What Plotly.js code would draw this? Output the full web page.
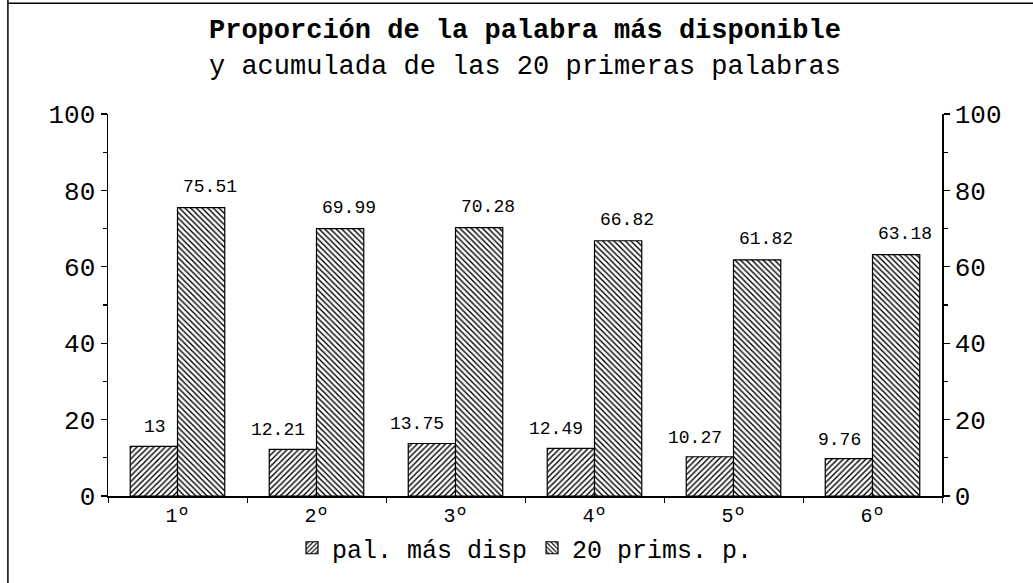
<!DOCTYPE html>
<html><head><meta charset="utf-8">
<script src="https://cdn.plot.ly/plotly-3.0.1.min.js"></script>
<style>body{margin:0;background:#fff}</style>
</head><body>
<div id="chart" style="width:1033px;height:583px"></div>
<script>
const categories = ["1º","2º","3º","4º","5º","6º"];
const palMasDisp = [13, 12.21, 13.75, 12.49, 10.27, 9.76];
const veintePrims = [75.51, 69.99, 70.28, 66.82, 61.82, 63.18];
const labelsA = ["13","12.21","13.75","12.49","10.27","9.76"];
const labelsB = ["75.51","69.99","70.28","66.82","61.82","63.18"];
const seriesNames = ["pal. más disp", "20 prims. p."];

const mono = "Liberation Mono, Courier New, monospace";

const traces = [
  {type:"bar", x:categories, y:palMasDisp, name:seriesNames[0],
   marker:{color:"white", line:{color:"black", width:1.2},
     pattern:{shape:"/", fgcolor:"black", bgcolor:"white", size:4, solidity:0.35, fillmode:"replace"}}},
  {type:"bar", x:categories, y:veintePrims, name:seriesNames[1],
   marker:{color:"white", line:{color:"black", width:1.2},
     pattern:{shape:"\\", fgcolor:"black", bgcolor:"white", size:4, solidity:0.35, fillmode:"replace"}}},
  {type:"scatter", x:categories, y:veintePrims, yaxis:"y2", mode:"none", showlegend:false, hoverinfo:"skip"}
];

const annotations = [];
categories.forEach((c,i)=>{
  annotations.push({x:c, y:palMasDisp[i], text:labelsA[i], showarrow:false, xanchor:"right", yanchor:"bottom",
    xshift:-10, yshift:7, font:{family:mono, size:18, color:"black"}});
  annotations.push({x:c, y:veintePrims[i], text:labelsB[i], showarrow:false, xanchor:"center", yanchor:"bottom",
    xshift:32, yshift:9, font:{family:mono, size:18, color:"black"}});
});
annotations.push({xref:"paper", yref:"paper", x:0.5, y:1, yshift:100, xanchor:"center", yanchor:"top", showarrow:false,
  text:"<b>Proporción de la palabra más disponible</b>", font:{family:mono, size:27, color:"black"}});
annotations.push({xref:"paper", yref:"paper", x:0.5, y:1, yshift:64, xanchor:"center", yanchor:"top", showarrow:false,
  text:"y acumulada de las 20 primeras palabras", font:{family:mono, size:27, color:"black"}});

const yCommon = {range:[0,100], tickvals:[0,20,40,60,80,100], ticks:"outside", ticklen:6, tickwidth:1.2,
  tickcolor:"black", showline:true, linecolor:"black", linewidth:1.5, showgrid:false, zeroline:false,
  tickfont:{family:mono, size:26, color:"black"}, automargin:false,
  minor:{tickvals:[10,30,50,70,90], ticks:"outside", ticklen:4, tickcolor:"black"}};

const layout = {
  width:1033, height:583,
  margin:{l:108, r:91, t:114, b:87},
  paper_bgcolor:"white", plot_bgcolor:"white",
  barmode:"group", bargap:0.32, bargroupgap:0,
  showlegend:true,
  legend:{orientation:"h", x:0.5, xanchor:"center", yref:"container", y:0.06, yanchor:"middle",
    font:{family:mono, size:25, color:"black"}, itemwidth:30, traceorder:"normal"},
  xaxis:{type:"category", range:[-0.5,5.5], tickson:"boundaries", ticks:"outside", ticklen:5, tickcolor:"black",
    showline:true, linecolor:"black", linewidth:1.5, showgrid:false, automargin:false,
    tickfont:{family:mono, size:20, color:"black"}},
  yaxis:Object.assign({}, yCommon),
  yaxis2:Object.assign({}, yCommon, {overlaying:"y", side:"right"}),
  annotations:annotations,
  shapes:[
    {type:"line", xref:"paper", yref:"paper", x0:-0.12, x1:-0.12, y0:1.3, y1:-0.3, line:{color:"black", width:1.5}},
    {type:"line", xref:"paper", yref:"paper", x0:-0.12, x1:1.2, y0:1.29, y1:1.29, line:{color:"black", width:1.5}}
  ]
};

Plotly.newPlot("chart", traces, layout, {displayModeBar:false, staticPlot:true});
</script>
</body></html>
